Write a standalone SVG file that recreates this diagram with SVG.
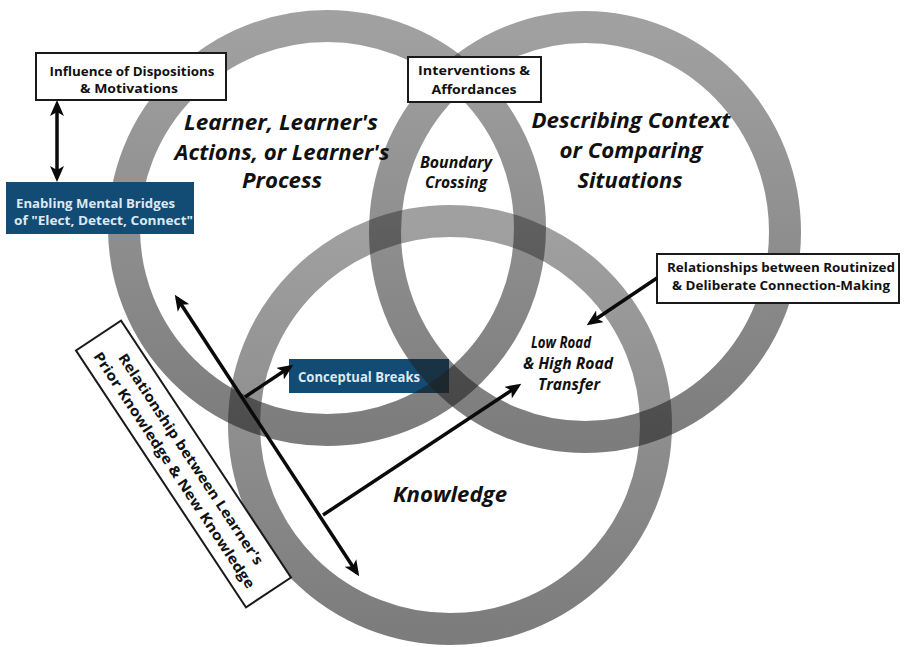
<svg xmlns="http://www.w3.org/2000/svg" width="904" height="647" viewBox="0 0 904 647">
<style>
.ring{fill:none;stroke:url(#rg);stroke-width:32}
.wbox{fill:#ffffff;stroke:#1a1a1a;stroke-width:2}
.bbox{fill:#124b73}
.bt{font-family:"Open Sans","Noto Sans",sans-serif;font-weight:700;font-size:12.5px;fill:#111;text-anchor:middle}
.wt{font-family:"Open Sans","Noto Sans",sans-serif;font-weight:700;font-size:12.5px;fill:#dfe8f0}
.title{font-family:"Open Sans","Noto Sans",sans-serif;font-weight:700;font-style:italic;font-size:22px;fill:#111;text-anchor:middle}
.sub{font-family:"Open Sans","Noto Sans",sans-serif;font-weight:700;font-style:italic;font-size:16px;fill:#111;text-anchor:middle}
.arr{stroke:#0a0a0a;stroke-width:3.5;fill:none}
</style>
<defs>
<linearGradient id="rg" x1="0" y1="0" x2="0" y2="1">
<stop offset="0" stop-color="#1e1e1e" stop-opacity="0.42"/>
<stop offset="1" stop-color="#1e1e1e" stop-opacity="0.58"/>
</linearGradient>
<marker id="ah" viewBox="0 0 16 14" refX="12" refY="7" markerWidth="16" markerHeight="14" markerUnits="userSpaceOnUse" orient="auto-start-reverse">
<path d="M0,0 L16,7 L0,14 L4,7 z" fill="#0a0a0a"/>
</marker>
</defs>

<g id="node-conceptual-breaks">
<rect class="bbox" x="289" y="359" width="160" height="34"/>
<text class="wt" x="298" y="382" style="font-size:14.5px" textLength="122" lengthAdjust="spacingAndGlyphs">Conceptual Breaks</text>
</g>

<g id="rings">
<ellipse id="ring-learner" class="ring" cx="327" cy="228" rx="203" ry="202"/>
<ellipse id="ring-context" class="ring" cx="585" cy="232" rx="200" ry="205"/>
<ellipse id="ring-knowledge" class="ring" cx="450" cy="425" rx="206" ry="204"/>
</g>

<g id="node-learner-title">
<text class="title" x="281" y="130" textLength="194" lengthAdjust="spacingAndGlyphs">Learner, Learner's</text>
<text class="title" x="282" y="160" textLength="215" lengthAdjust="spacingAndGlyphs">Actions, or Learner's</text>
<text class="title" x="282" y="188" textLength="80" lengthAdjust="spacingAndGlyphs">Process</text>
</g>

<g id="node-context-title">
<text class="title" x="631" y="128" textLength="199" lengthAdjust="spacingAndGlyphs">Describing Context</text>
<text class="title" x="631" y="158" textLength="143" lengthAdjust="spacingAndGlyphs">or Comparing</text>
<text class="title" x="630" y="188" textLength="105" lengthAdjust="spacingAndGlyphs">Situations</text>
</g>

<g id="node-knowledge-title">
<text class="title" x="450" y="502" textLength="114" lengthAdjust="spacingAndGlyphs">Knowledge</text>
</g>

<g id="node-boundary-crossing">
<text class="sub" x="456" y="168" textLength="72" lengthAdjust="spacingAndGlyphs">Boundary</text>
<text class="sub" x="456" y="188" textLength="62" lengthAdjust="spacingAndGlyphs">Crossing</text>
</g>

<g id="node-transfer">
<text class="sub" x="561" y="348" textLength="60" lengthAdjust="spacingAndGlyphs">Low Road</text>
<text class="sub" x="568" y="369" textLength="90" lengthAdjust="spacingAndGlyphs">&amp; High Road</text>
<text class="sub" x="569" y="390" textLength="62" lengthAdjust="spacingAndGlyphs">Transfer</text>
</g>

<g id="node-dispositions">
<rect class="wbox" x="36" y="53" width="190" height="47"/>
<text class="bt" x="132" y="76" textLength="165" lengthAdjust="spacingAndGlyphs">Influence of Dispositions</text>
<text class="bt" x="129" y="93" textLength="98" lengthAdjust="spacingAndGlyphs">&amp; Motivations</text>
</g>

<g id="node-mental-bridges">
<rect class="bbox" x="6" y="182" width="188" height="52"/>
<text class="wt" x="16" y="208" textLength="159" lengthAdjust="spacingAndGlyphs">Enabling Mental Bridges</text>
<text class="wt" x="14" y="225" textLength="179" lengthAdjust="spacingAndGlyphs">of "Elect, Detect, Connect"</text>
</g>

<g id="node-interventions">
<rect class="wbox" x="408" y="57" width="133" height="45"/>
<text class="bt" x="474" y="75" textLength="112" lengthAdjust="spacingAndGlyphs">Interventions &amp;</text>
<text class="bt" x="474" y="94" textLength="85" lengthAdjust="spacingAndGlyphs">Affordances</text>
</g>

<g id="node-routinized">
<rect class="wbox" x="657" y="254" width="242" height="49"/>
<text class="bt" x="781" y="272" textLength="228" lengthAdjust="spacingAndGlyphs">Relationships between Routinized</text>
<text class="bt" x="781" y="290" textLength="218" lengthAdjust="spacingAndGlyphs">&amp; Deliberate Connection-Making</text>
</g>

<g id="node-prior-knowledge" transform="translate(183.5,464) rotate(56.5)">
<rect class="wbox" x="-154" y="-27" width="308" height="54"/>
<text class="bt" x="0" y="-4" style="font-size:14px" textLength="250" lengthAdjust="spacingAndGlyphs">Relationship between Learner's</text>
<text class="bt" x="0" y="16" style="font-size:14px" textLength="280" lengthAdjust="spacingAndGlyphs">Prior Knowledge &amp; New Knowledge</text>
</g>

<g id="connectors">
<line class="arr" x1="57" y1="104" x2="57" y2="178" marker-start="url(#ah)" marker-end="url(#ah)"/>
<line class="arr" x1="177" y1="298" x2="357" y2="573" marker-start="url(#ah)" marker-end="url(#ah)"/>
<line class="arr" x1="245" y1="397" x2="290" y2="367" marker-end="url(#ah)"/>
<line class="arr" x1="323" y1="515" x2="518" y2="386" marker-end="url(#ah)"/>
<line class="arr" x1="657" y1="278" x2="590" y2="323" stroke-width="3" marker-end="url(#ah)"/>
</g>
</svg>
